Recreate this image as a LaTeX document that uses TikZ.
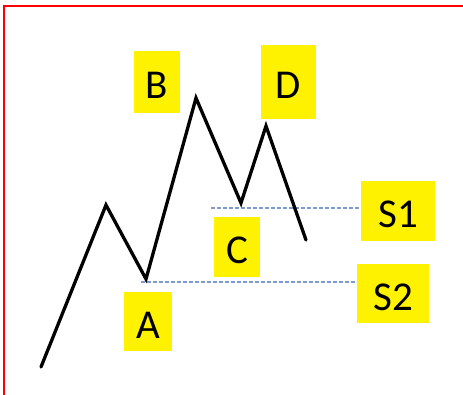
\documentclass[tikz,border=0pt]{standalone}
\usepackage{fontspec}
\setmainfont{Carlito}
\definecolor{dashblue}{RGB}{125,155,205}
\begin{document}
\begin{tikzpicture}[x=1pt,y=-1pt,
  lbl/.style={fill=yellow,inner sep=0pt,font=\fontsize{41}{41}\selectfont,text height=33pt,text depth=0pt,align=center},
  wave/.style={line width=3.3pt,line join=miter,line cap=round},
  guide/.style={dashblue,line width=1.1pt,dash pattern=on 4pt off 2pt}]
\useasboundingbox (0,0) rectangle (463,395);
\fill[white] (0,0) rectangle (463,395);
\draw[red,line width=1.8pt] (3.7,395) -- (3.7,6.3) -- (463,6.3);
% labels
\node[lbl,minimum width=46pt,minimum height=62pt] (B) at (157,82) {B};
\node[lbl,minimum width=55pt,minimum height=74pt] (D) at (288.5,82) {D};
\node[lbl,minimum width=46pt,minimum height=60pt] (C) at (237,247) {C};
\node[lbl,minimum width=48pt,minimum height=59pt] (A) at (148,321.5) {A};
\node[lbl,minimum width=74pt,minimum height=60pt] (S1) at (398,211) {S1};
\node[lbl,minimum width=72pt,minimum height=59pt] (S2) at (393,293.5) {S2};
% points
\coordinate (p0) at (41,367);
\coordinate (p1) at (106,205);
\coordinate (pA) at (146,279);
\coordinate (pB) at (196,98);
\coordinate (pC) at (241,203);
\coordinate (pD) at (266,126);
\coordinate (p6) at (306,240);
\coordinate (s1start) at (211,208);
\coordinate (s2start) at (141,282);
% guide lines
\draw[guide] (s1start) -- (s1start -| S1.west);
\draw[guide] (s2start) -- (s2start -| S2.west);
% wave
\draw[wave] (p0) -- (p1) -- (pA) -- (pB) -- (pC) -- (pD) -- (p6);
\end{tikzpicture}
\end{document}
